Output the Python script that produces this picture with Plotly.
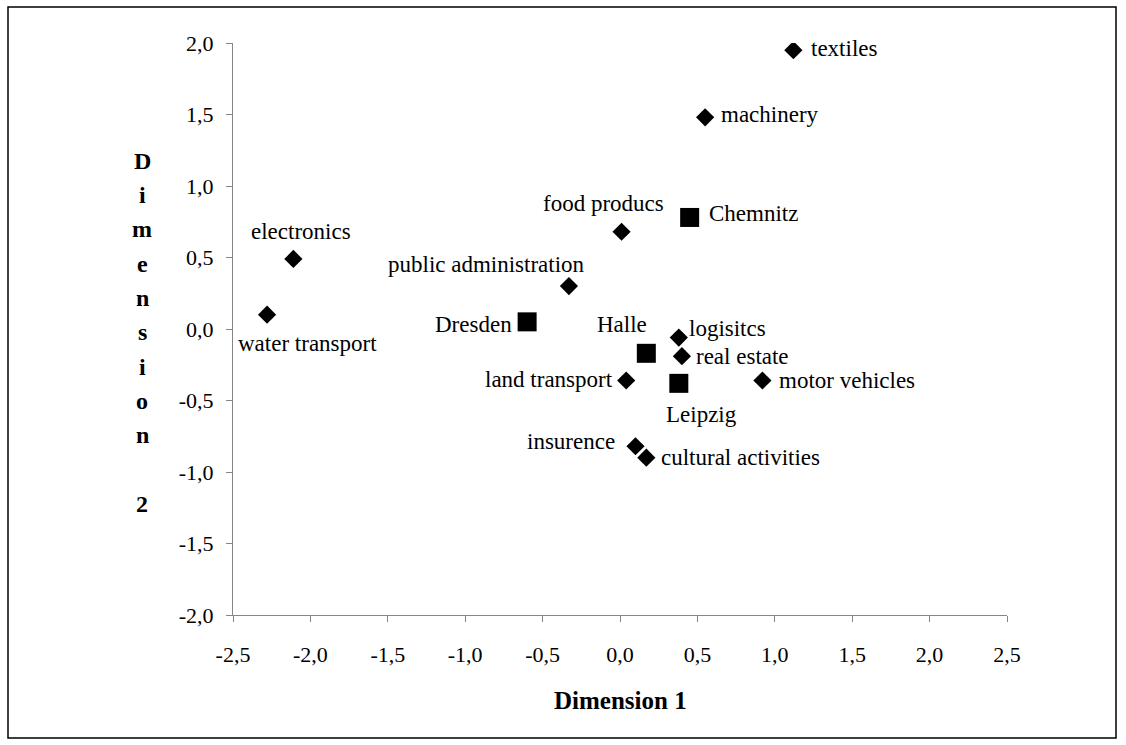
import plotly.graph_objects as go

# ---- data ----
sector_names = ["textiles", "machinery", "food producs", "electronics", "water transport",
                "public administration", "logisitcs", "real estate", "land transport",
                "motor vehicles", "insurence", "cultural activities"]
sector_x = [1.12, 0.55, 0.01, -2.11, -2.28, -0.33, 0.38, 0.40, 0.04, 0.92, 0.10, 0.17]
sector_y = [1.95, 1.48, 0.68, 0.49, 0.10, 0.30, -0.06, -0.19, -0.36, -0.36, -0.82, -0.90]

city_names = ["Chemnitz", "Dresden", "Halle", "Leipzig"]
city_x = [0.45, -0.60, 0.17, 0.38]
city_y = [0.78, 0.05, -0.17, -0.38]

x_tickvals = [-2.5, -2.0, -1.5, -1.0, -0.5, 0.0, 0.5, 1.0, 1.5, 2.0, 2.5]
x_ticktext = ["-2,5", "-2,0", "-1,5", "-1,0", "-0,5", "0,0", "0,5", "1,0", "1,5", "2,0", "2,5"]
y_tickvals = [-2.0, -1.5, -1.0, -0.5, 0.0, 0.5, 1.0, 1.5, 2.0]
y_ticktext = ["-2,0", "-1,5", "-1,0", "-0,5", "0,0", "0,5", "1,0", "1,5", "2,0"]

# label placement (anchor, x pixel shift, y pixel shift)
label_style = {
    "textiles": ("left", 16, 2),
    "machinery": ("left", 14, 3),
    "food producs": ("center", -18, 28),
    "electronics": ("center", 8, 27),
    "water transport": ("center", 40, -29),
    "public administration": ("center", -82, 22),
    "logisitcs": ("left", 8, 9),
    "real estate": ("left", 12, 0),
    "land transport": ("right", -11, 1),
    "motor vehicles": ("left", 15, 0),
    "insurence": ("right", -18, 5),
    "cultural activities": ("left", 13, 0),
    "Chemnitz": ("left", 17, 4),
    "Dresden": ("right", -13, -3),
    "Halle": ("center", -24, 29),
    "Leipzig": ("center", 23, -31),
}

FONT = "Liberation Serif, Times New Roman, serif"

fig = go.Figure()
fig.add_trace(go.Scatter(x=sector_x, y=sector_y, mode="markers",
                         marker=dict(symbol="diamond", size=14, color="black"),
                         text=sector_names, hoverinfo="text", showlegend=False))
fig.add_trace(go.Scatter(x=city_x, y=city_y, mode="markers",
                         marker=dict(symbol="square", size=19, color="black"),
                         text=city_names, hoverinfo="text", showlegend=False))

annotations = []
for names, xs, ys in [(sector_names, sector_x, sector_y), (city_names, city_x, city_y)]:
    for n, xv, yv in zip(names, xs, ys):
        anc, dx, dy = label_style[n]
        annotations.append(dict(x=xv, y=yv, xref="x", yref="y", text=n, showarrow=False,
                                xanchor=anc, yanchor="middle", xshift=dx, yshift=dy,
                                font=dict(family=FONT, size=23, color="black")))

# plot-area geometry in pixels
W, H = 1126, 745
L, R, T, B = 233, 1007, 43, 615
def px(x):
    return (x - L) / (R - L)
def py(y):
    return (B - y) / (B - T)

# vertical stacked axis title "Dimension 2"
letters = list("Dimension") + ["", "2"]
for i, ch in enumerate(letters):
    if ch:
        annotations.append(dict(x=px(142), y=py(160.7 + 34.3 * i), xref="paper", yref="paper",
                                text="<b>%s</b>" % ch, showarrow=False,
                                xanchor="center", yanchor="middle",
                                font=dict(family=FONT, size=24, color="black")))
annotations.append(dict(x=px(620), y=py(700), xref="paper", yref="paper",
                        text="<b>Dimension 1</b>", showarrow=False,
                        xanchor="center", yanchor="middle",
                        font=dict(family=FONT, size=25, color="black")))

axis_common = dict(showgrid=False, zeroline=False, showline=True, linecolor="#868686",
                   linewidth=1, ticks="outside", ticklen=6, tickcolor="#868686",
                   tickfont=dict(family=FONT, size=22, color="black"))

fig.update_layout(
    width=W, height=H,
    margin=dict(l=L, r=W - R, t=T, b=H - B),
    paper_bgcolor="white", plot_bgcolor="white",
    xaxis=dict(range=[-2.5, 2.5], tickvals=x_tickvals, ticktext=x_ticktext,
               ticklabelstandoff=14, **axis_common),
    yaxis=dict(range=[-2.0, 2.0], tickvals=y_tickvals, ticktext=y_ticktext,
               ticklabelstandoff=8, **axis_common),
    annotations=annotations,
    shapes=[dict(type="rect", xref="paper", yref="paper",
                 x0=px(8), x1=px(1116), y0=py(738), y1=py(7),
                 line=dict(color="black", width=1.5), fillcolor="rgba(0,0,0,0)")],
    showlegend=False,
)

fig.write_html("out.html", config={"displayModeBar": False},
               post_script="document.body.style.margin='0';")
